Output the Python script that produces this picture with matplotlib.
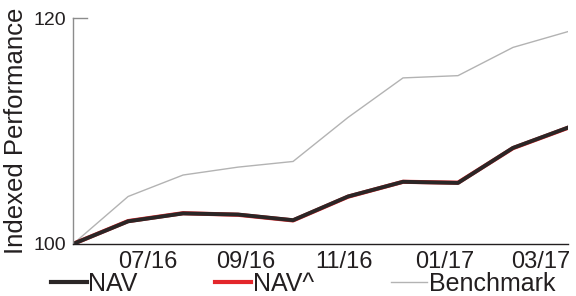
import numpy as np
import matplotlib.pyplot as plt
from matplotlib.lines import Line2D

plt.rcParams['font.family'] = ['Liberation Sans', 'DejaVu Sans']

# data
x = np.arange(10)
nav = [100.0, 102.0, 102.7, 102.6, 102.1, 104.2, 105.5, 105.4, 108.5, 110.3]
nav_hat = [100.0, 102.02, 102.72, 102.58, 102.08, 104.18, 105.5, 105.42, 108.48, 110.28]
bench = [100.0, 104.2, 106.1, 106.8, 107.3, 111.2, 114.7, 114.9, 117.4, 118.8]
tick_pos = [1.355, 3.145, 4.93, 6.76, 8.51]
tick_labels = ['07/16', '09/16', '11/16', '01/17', '03/17']

fig = plt.figure(figsize=(5.76, 2.96), dpi=100)
ax = fig.add_axes([0.127, 0.176, 0.859, 0.763])

ax.plot(x, bench, color='#b3b3b3', lw=1.0)
ax.plot(x, nav_hat, color='#e3262b', lw=3.0)
ax.plot(x, nav, color='#2b2626', lw=2.8)

ax.set_xlim(0, 9)
ax.set_ylim(100, 120)
ax.set_yticks([100, 120])
ax.set_xticks(tick_pos)
ax.set_xticklabels(tick_labels, fontsize=17, color='#231f20')
ax.tick_params(axis='x', length=0, pad=5)
ax.tick_params(axis='y', length=0, labelsize=14, pad=5, labelcolor='#231f20')
ax.set_ylabel('Indexed Performance', fontsize=18.5, color='#231f20', labelpad=4)

for s in ['top', 'right']:
    ax.spines[s].set_visible(False)
ax.spines['left'].set_color('#8c8c8c')
ax.spines['left'].set_linewidth(1.0)
ax.spines['bottom'].set_color('#231f20')
ax.spines['bottom'].set_linewidth(1.0)
# short top tick at 120
ax.plot([0, 0.25], [120, 120], color='#8c8c8c', lw=1.0, clip_on=False)

handles = [Line2D([], [], color='#2b2626', lw=3),
           Line2D([], [], color='#e3262b', lw=3),
           Line2D([], [], color='#b3b3b3', lw=1)]
fig.legend(handles, ['NAV', 'NAV^', 'Benchmark'], loc='lower left',
           bbox_to_anchor=(0.049, -0.075), ncol=3, frameon=False, fontsize=18,
           handlelength=1.45, handletextpad=0.05, columnspacing=3.1,
           labelcolor='#231f20')

fig.savefig('out.png', dpi=100)
